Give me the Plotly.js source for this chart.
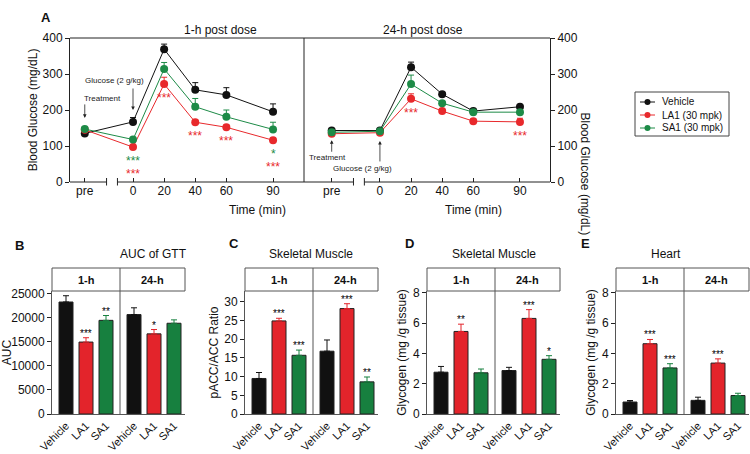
<!DOCTYPE html>
<html>
<head>
<meta charset="utf-8">
<script src="https://cdn.plot.ly/plotly-3.0.1.min.js"></script>
<style>
  html, body { margin: 0; padding: 0; background: #fff; }
  #chart { width: 750px; height: 454px; }
</style>
</head>
<body>
<div id="chart"></div>
<script>
// ---- data: panel A (glucose tolerance test) ----
const timeLabels = ['pre', '0', '20', '40', '60', '90'];
const timeX = [-31, 0, 20, 40, 60, 90];

const veh1h = [135, 167, 369, 256, 242, 195];
const veh1hErr = [5, 12, 14, 20, 20, 22];
const la1_1h = [145, 97, 272, 166, 152, 116];
const la1_1hErr = [5, 5, 19, 6, 6, 6];
const sa1_1h = [147, 118, 314, 209, 181, 146];
const sa1_1hErr = [5, 5, 18, 23, 19, 20];
const la1_1hStars = ['', '***', '***', '***', '***', '***'];
const sa1_1hStars = ['', '***', '', '', '', '*'];

const veh24h = [143, 143, 319, 244, 197, 209];
const veh24hErr = [4, 4, 14, 5, 5, 4];
const la1_24h = [134, 137, 231, 197, 169, 167];
const la1_24hErr = [4, 4, 14, 5, 6, 10];
const sa1_24h = [138, 141, 272, 219, 194, 194];
const sa1_24hErr = [4, 4, 25, 5, 6, 5];
const la1_24hStars = ['', '', '***', '', '', '***'];
const sa1_24hStars = ['', '', '', '', '', ''];

const seriesNames = ['Vehicle', 'LA1 (30 mpk)', 'SA1 (30 mpk)'];

// ---- data: bar panels B-E (order: 1-h Vehicle, LA1, SA1, 24-h Vehicle, LA1, SA1) ----
const barLabels = ['Vehicle', 'LA1', 'SA1', 'Vehicle', 'LA1', 'SA1'];
const barX = [0, 1, 2, 3.4, 4.4, 5.4];

const aucMean = [23200, 14900, 19400, 20600, 16600, 18800];
const aucErr = [1300, 900, 1000, 1400, 900, 700];
const aucStars = ['', '***', '**', '', '*', ''];

const accMean = [9.5, 24.9, 15.7, 16.8, 28.2, 8.6];
const accErr = [1.6, 0.7, 1.4, 3.0, 1.3, 1.3];
const accStars = ['', '***', '***', '', '***', '**'];

const glyMuscleMean = [2.76, 5.45, 2.72, 2.87, 6.31, 3.61];
const glyMuscleErr = [0.38, 0.48, 0.25, 0.21, 0.58, 0.24];
const glyMuscleStars = ['', '**', '', '', '***', '*'];

const glyHeartMean = [0.79, 4.64, 3.04, 0.9, 3.36, 1.22];
const glyHeartErr = [0.1, 0.28, 0.28, 0.21, 0.28, 0.15];
const glyHeartStars = ['', '***', '***', '', '***', ''];

// ---- styling helpers ----
const W = 750, H = 454;
const FONT = 'Liberation Sans, Arial, sans-serif';
const BLACK = '#111111', RED = '#e8292c', GREEN = '#1d8b47';
const BAR_RED = '#e3242b', BAR_GREEN = '#17803f';
const px = v => v / W;          // pixel -> paper x
const py = v => 1 - v / H;      // pixel -> paper y

const traces = [];
const annotations = [];
const shapes = [];

// glucose curves
function addCurve(xa, ya, y, err, name, color) {
    traces.push({
        x: timeX, y: y, xaxis: xa, yaxis: ya,
        type: 'scatter', mode: 'lines+markers', name: name, showlegend: false,
        line: { color: color, width: 1 },
        marker: { color: color, size: 8 },
        error_y: { type: 'data', symmetric: false, array: err,
                   arrayminus: err.map(() => 0), color: color, thickness: 1, width: 3 }
    });
}
addCurve('x', 'y', veh1h, veh1hErr, seriesNames[0], BLACK);
addCurve('x', 'y', la1_1h, la1_1hErr, seriesNames[1], RED);
addCurve('x', 'y', sa1_1h, sa1_1hErr, seriesNames[2], GREEN);
addCurve('x2', 'y2', veh24h, veh24hErr, seriesNames[0], BLACK);
addCurve('x2', 'y2', la1_24h, la1_24hErr, seriesNames[1], RED);
addCurve('x2', 'y2', sa1_24h, sa1_24hErr, seriesNames[2], GREEN);

// significance stars below the lowest point at each time
function addCurveStars(xa, ya, series, greenStars, redStars) {
    timeX.forEach((t, i) => {
        const low = Math.min(...series.map(s => s[i]));
        let row = 0;
        [[greenStars[i], GREEN], [redStars[i], RED]].forEach(([txt, col]) => {
            if (!txt) return;
            annotations.push({
                x: t, y: low, xref: xa, yref: ya, text: txt, showarrow: false,
                yanchor: 'top', yshift: -5 - row * 13,
                font: { family: FONT, size: 12, color: col }
            });
            row++;
        });
    });
}
addCurveStars('x', 'y', [veh1h, la1_1h, sa1_1h], sa1_1hStars, la1_1hStars);
addCurveStars('x2', 'y2', [veh24h, la1_24h, sa1_24h], sa1_24hStars, la1_24hStars);

// legend box drawn by hand so it stays compact
const legendColors = [BLACK, RED, GREEN];
shapes.push({ type: 'rect', xref: 'paper', yref: 'paper', x0: px(635), x1: px(729), y0: py(136), y1: py(92),
              line: { color: '#444', width: 1 }, fillcolor: '#fff', layer: 'below' });
seriesNames.forEach((nm, i) => {
    const yy = 102 + i * 13;
    shapes.push({ type: 'line', xref: 'paper', yref: 'paper', x0: px(640), x1: px(655), y0: py(yy), y1: py(yy),
                  line: { color: legendColors[i], width: 1 } });
    shapes.push({ type: 'circle', xref: 'paper', yref: 'paper', x0: px(644.5), x1: px(650.5), y0: py(yy + 3), y1: py(yy - 3),
                  line: { color: legendColors[i], width: 0 }, fillcolor: legendColors[i] });
    annotations.push({ x: px(660), y: py(yy), xref: 'paper', yref: 'paper', xanchor: 'left', yanchor: 'middle',
                       showarrow: false, text: nm, font: { family: FONT, size: 10, color: '#111' } });
});

// bar panels
const panels = [
    { n: 3, mean: aucMean, err: aucErr, stars: aucStars },
    { n: 4, mean: accMean, err: accErr, stars: accStars },
    { n: 5, mean: glyMuscleMean, err: glyMuscleErr, stars: glyMuscleStars },
    { n: 6, mean: glyHeartMean, err: glyHeartErr, stars: glyHeartStars }
];
const groupColors = [BLACK, BAR_RED, BAR_GREEN];
panels.forEach(p => {
    for (let g = 0; g < 3; g++) {
        traces.push({
            type: 'bar', xaxis: 'x' + p.n, yaxis: 'y' + p.n, showlegend: false,
            x: [barX[g], barX[g + 3]], y: [p.mean[g], p.mean[g + 3]], width: 0.7,
            marker: { color: groupColors[g], line: { color: '#222', width: 1 } },
            error_y: { type: 'data', symmetric: false, array: [p.err[g], p.err[g + 3]],
                       arrayminus: [0, 0], color: groupColors[g], thickness: 1, width: 3 }
        });
    }
    p.stars.forEach((s, i) => {
        if (!s) return;
        annotations.push({
            x: barX[i], y: p.mean[i] + p.err[i], xref: 'x' + p.n, yref: 'y' + p.n,
            text: s, showarrow: false, yanchor: 'bottom', yshift: -3,
            font: { family: FONT, size: 10, color: '#000' }
        });
    });
    // facet strip
    shapes.push({ type: 'rect', xref: 'x' + p.n + ' domain', yref: 'paper',
                  x0: 0, x1: 1, y0: py(291), y1: py(268), line: { color: '#555', width: 1 } });
    shapes.push({ type: 'line', xref: 'x' + p.n, yref: 'paper',
                  x0: 2.7, x1: 2.7, y0: py(414), y1: py(268), line: { color: '#555', width: 1 } });
    annotations.push({ x: 1.0, y: py(279.5), xref: 'x' + p.n, yref: 'paper', showarrow: false,
                       text: '<b>1-h</b>', font: { family: FONT, size: 11, color: '#111' } });
    annotations.push({ x: 4.33, y: py(279.5), xref: 'x' + p.n, yref: 'paper', showarrow: false,
                       text: '<b>24-h</b>', font: { family: FONT, size: 11, color: '#111' } });
});

// panel A frame: top line, divider, broken bottom axis
const yA0 = py(182), yA1 = py(38);
shapes.push({ type: 'line', xref: 'paper', yref: 'paper', x0: px(70), x1: px(550), y0: yA1, y1: yA1, line: { color: '#222', width: 1 } });
shapes.push({ type: 'line', xref: 'paper', yref: 'paper', x0: px(304), x1: px(304), y0: yA0, y1: yA1, line: { color: '#222', width: 1 } });
[['x', -40.5, 109.9], ['x2', -48.8, 109.3]].forEach(([xa, lo, hi]) => {
    shapes.push({ type: 'line', xref: xa, yref: 'paper', x0: lo, x1: -17, y0: yA0, y1: yA0, line: { color: '#222', width: 1 } });
    shapes.push({ type: 'line', xref: xa, yref: 'paper', x0: -10, x1: hi, y0: yA0, y1: yA0, line: { color: '#222', width: 1 } });
    [-17, -10].forEach(b => shapes.push({ type: 'line', xref: xa, yref: 'paper', x0: b, x1: b,
        y0: py(185.5), y1: py(178), line: { color: '#222', width: 1 } }));
});

// panel A arrows and notes
const noteFont = { family: FONT, size: 8, color: '#222' };
const arrow = (xa, ya, x, y, ay) => annotations.push({
    x: x, y: y, xref: xa, yref: ya, text: '', showarrow: true, ax: 0, ay: ay,
    arrowhead: 2, arrowsize: 0.9, arrowwidth: 0.8, arrowcolor: '#222', standoff: 0
});
annotations.push({ x: -31, y: 231, xref: 'x', yref: 'y', text: 'Treatment', showarrow: false, xanchor: 'left', xshift: -3, font: noteFont });
arrow('x', 'y', -31, 178, -15);
annotations.push({ x: -11.9, y: 281, xref: 'x', yref: 'y', text: 'Glucose (2 g/kg)', showarrow: false, font: noteFont });
arrow('x', 'y', 0, 200, -23);
annotations.push({ x: -33.7, y: 69, xref: 'x2', yref: 'y2', text: 'Treatment', showarrow: false, font: noteFont });
arrow('x2', 'y2', -31, 116, 13);
annotations.push({ x: -10.9, y: 38, xref: 'x2', yref: 'y2', text: 'Glucose (2 g/kg)', showarrow: false, font: noteFont });
arrow('x2', 'y2', 0, 114, 22);

// titles and panel letters
const txt = (x, y, t, size, extra) => annotations.push(Object.assign({
    x: px(x), y: py(y), xref: 'paper', yref: 'paper', text: t, showarrow: false,
    font: { family: FONT, size: size, color: '#111' }
}, extra || {}));
txt(182, 21, '1-h post dose', 12);
txt(423, 21, '24-h post dose', 12);
txt(227, 210, 'Time (min)', 12);
txt(473, 210, 'Time (min)', 12);
txt(594, 110, 'Blood Glucose (mg/dL)', 12, { textangle: 90 });
txt(118, 254, 'AUC of GTT', 12);
txt(311, 254, 'Skeletal Muscle', 12);
txt(494, 254, 'Skeletal Muscle', 12);
txt(683, 254, 'Heart', 12);
txt(39, 8, '<b>A</b>', 13);
txt(13, 245, '<b>B</b>', 13);
txt(227, 244, '<b>C</b>', 13);
txt(409, 244, '<b>D</b>', 13);
txt(592, 244, '<b>E</b>', 13);

// axes
const tickFont = { family: FONT, size: 12, color: '#111' };
const xTime = (dom, range, anchor) => ({
    domain: dom, range: range, anchor: anchor, tickvals: timeX, ticktext: timeLabels,
    ticks: 'inside', ticklen: 4, tickcolor: '#222', showline: false, showgrid: false,
    zeroline: false, tickfont: tickFont, fixedrange: true
});
const yBase = {
    showgrid: false, zeroline: false, showline: true, ticks: 'outside', ticklen: 4,
    tickcolor: '#222', tickfont: tickFont, fixedrange: true, tickformat: 'd'
};
const layout = {
    width: W, height: H, margin: { l: 0, r: 0, t: 0, b: 0 },
    paper_bgcolor: '#fff', plot_bgcolor: 'rgba(0,0,0,0)', showlegend: false,
    font: { family: FONT, color: '#111' },
    xaxis: xTime([px(70), px(304)], [-40.5, 109.9], 'y'),
    xaxis2: xTime([px(304), px(550)], [-48.8, 109.3], 'y2'),
    yaxis: Object.assign({}, yBase, { domain: [yA0, yA1], range: [0, 400], dtick: 100, anchor: 'x',
        linecolor: '#222', title: { text: 'Blood Glucose (mg/dL)', font: { family: FONT, size: 12 }, standoff: 2 } }),
    yaxis2: Object.assign({}, yBase, { domain: [yA0, yA1], range: [0, 400], dtick: 100, anchor: 'x2',
        side: 'right', linecolor: '#222' }),
    shapes: shapes, annotations: annotations, bargap: 0
};
const barDomains = [[52, 185], [245, 378], [427, 560], [616, 749]];
const barRanges = [[0, 25480], [0, 32.9], [0, 8.12], [0, 8.12]];
const barDticks = [5000, 5, 2, 2];
const barTitles = ['AUC', 'pACC/ACC Ratio', 'Glycogen (mg /g tissue)', 'Glycogen (mg /g tissue)'];
panels.forEach((p, k) => {
    layout['xaxis' + p.n] = {
        domain: [px(barDomains[k][0]), px(barDomains[k][1])], range: [-0.7, 5.95], anchor: 'y' + p.n,
        tickvals: barX, ticktext: barLabels, tickangle: -45, ticks: '', showline: true, linecolor: '#555',
        showgrid: false, zeroline: false, tickfont: { family: FONT, size: 11, color: '#111' }, fixedrange: true
    };
    layout['yaxis' + p.n] = Object.assign({}, yBase, {
        domain: [py(414), py(291)], range: barRanges[k], dtick: barDticks[k], anchor: 'x' + p.n,
        linecolor: '#555', title: { text: barTitles[k], font: { family: FONT, size: 12 }, standoff: 3 }
    });
});

Plotly.newPlot('chart', traces, layout, { staticPlot: true });
</script>
</body>
</html>
